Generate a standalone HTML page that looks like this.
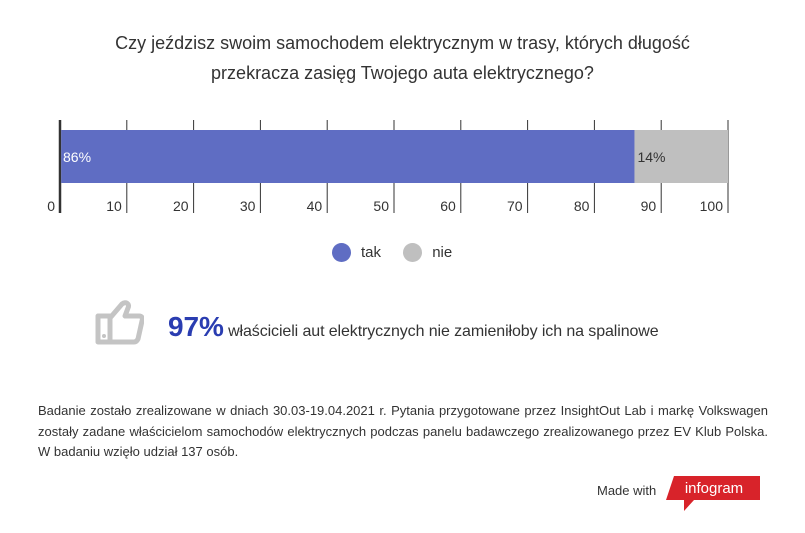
<!DOCTYPE html>
<html><head><meta charset="utf-8"><style>
body{margin:0;width:805px;height:533px;background:#fff;font-family:"Liberation Sans",sans-serif;color:#333;position:relative;overflow:hidden}
.t{position:absolute;left:0;width:805px;text-align:center;font-size:18px;color:#333}
</style></head><body>
<div class="t" style="top:28px;line-height:30px">Czy jeździsz swoim samochodem elektrycznym w trasy, których długość<br>przekracza zasięg Twojego auta elektrycznego?</div>
<svg id="c" width="805" height="230" style="position:absolute;left:0;top:100px"></svg>
<div style="position:absolute;top:243px;left:332px;font-size:15px;color:#333">
<span><span style="display:inline-block;width:19px;height:19px;border-radius:50%;background:#5f6dc3;vertical-align:middle"></span><span style="margin-left:10px;vertical-align:middle">tak</span></span>
<span style="margin-left:18px"><span style="display:inline-block;width:19px;height:19px;border-radius:50%;background:#bfbfbf;vertical-align:middle"></span><span style="margin-left:10px;vertical-align:middle">nie</span></span>
</div>
<svg width="50" height="50" style="position:absolute;left:94px;top:298px"><path d="M4 18h12v26H4zM16 20l12-14c4-3 8 0 6 4l-3 8h14c3 0 4 2 3 5l-4 18c-1 2-2 3-4 3H16" fill="none" stroke="#c4c4c4" stroke-width="5" stroke-linejoin="round"/><circle cx="10" cy="38" r="2" fill="#c4c4c4"/></svg>
<div style="position:absolute;left:168px;top:311px;font-size:16px;color:#333;letter-spacing:-0.1px"><span style="font-size:28px;font-weight:bold;color:#2a3db1">97%</span> właścicieli aut elektrycznych nie zamieniłoby ich na spalinowe</div>
<div style="position:absolute;left:38px;top:401px;width:730px;font-size:13px;line-height:20.5px;color:#333;text-align:justify">Badanie zostało zrealizowane w dniach 30.03-19.04.2021 r. Pytania przygotowane przez InsightOut Lab i markę Volkswagen zostały zadane właścicielom samochodów elektrycznych podczas panelu badawczego zrealizowanego przez EV Klub Polska. W badaniu wzięło udział 137 osób.</div>
<div style="position:absolute;left:597px;top:483px;font-size:13px;color:#333">Made with</div>
<svg width="110" height="40" style="position:absolute;left:664px;top:474px"><path d="M10 2H96V26H30L20 37V26H2z" fill="#d8232a"/><text x="50" y="19" font-size="15" fill="#fff" text-anchor="middle" font-family="Liberation Sans">infogram</text></svg>
<script>
const categories=["tak","nie"];
const values=[86,14];
const colors=["#5f6dc3","#bfbfbf"];
const ticks=[0,10,20,30,40,50,60,70,80,90,100];
const svg=document.getElementById('c'),ns="http://www.w3.org/2000/svg";
const x=v=>60+v*6.68;
function mk(t,a){const e=document.createElementNS(ns,t);for(const k in a)e.setAttribute(k,a[k]);svg.appendChild(e);return e;}
ticks.forEach(v=>{
 const l=mk('line',{x1:x(v),x2:x(v),y1:20,y2:113,stroke:'#333','stroke-width':v==0?2.5:1});
 
 
 const t=mk('text',{x:x(v)-5,y:111,'font-size':14,fill:'#333','text-anchor':'end','font-family':'Liberation Sans'});
 t.textContent=v;
 
 
});
let acc=0;
values.forEach((v,i)=>{
 const r=mk('rect',{x:x(acc)+(i==0?1.2:0),y:30,width:x(acc+v)-x(acc)-(i==0?1.2:0),height:53,fill:colors[i]});
 
 
 const t=mk('text',{x:x(acc)+3,y:62,'font-size':14,fill:i==0?'#fff':'#333','font-family':'Liberation Sans'});
 t.textContent=v+'%';
 
 
 acc+=v;
});
</script>
</body></html>
